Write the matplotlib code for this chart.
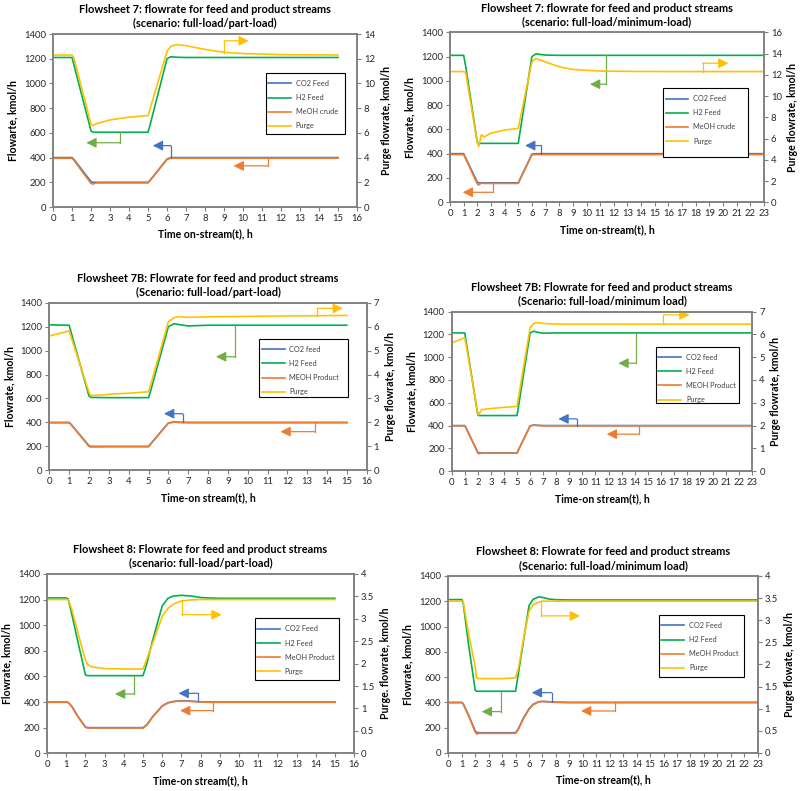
import matplotlib.pyplot as plt
from matplotlib.ticker import MultipleLocator, FuncFormatter
from matplotlib.patches import Rectangle

plt.rcParams['font.family'] = ['Lato', 'DejaVu Sans']

# --- Flowsheet 7, full-load/part-load ---
fs7_pl_t = [0, 1.0, 1.1, 2.0, 2.1, 2.3, 3, 4, 5, 5.1, 6.0, 6.2, 6.5, 7, 7.5, 8, 9, 10, 12, 15]
fs7_pl_co2 = [400, 400, 385, 205, 200, 200, 200, 200, 200, 215, 388, 400, 400, 400, 400, 400, 400, 400, 400, 400]
fs7_pl_h2 = [1210, 1210, 1150, 615, 605, 605, 605, 605, 605, 660, 1200, 1216, 1212, 1210, 1210, 1210, 1210, 1210, 1210, 1210]
fs7_pl_meoh = [394, 394, 378, 190, 186, 195, 195, 195, 195, 212, 385, 395, 395, 395, 395, 395, 395, 395, 395, 395]
fs7_pl_purge = [12.3, 12.3, 12.05, 6.7, 6.6, 6.75, 7.05, 7.27, 7.4, 7.9, 12.6, 13.0, 13.15, 13.05, 12.9, 12.75, 12.52, 12.42, 12.33, 12.3]

# --- Flowsheet 7, full-load/minimum-load ---
fs7_ml_t = [0, 1.0, 1.15, 2.0, 2.1, 2.3, 2.5, 3, 4, 5, 5.1, 6.0, 6.3, 7, 8, 9, 10, 11, 13, 16, 23]
fs7_ml_co2 = [400, 400, 365, 165, 160, 160, 160, 160, 160, 160, 184, 396, 400, 400, 400, 400, 400, 400, 400, 400, 400]
fs7_ml_h2 = [1210, 1210, 1120, 492, 485, 485, 485, 485, 485, 485, 557, 1200, 1222, 1212, 1210, 1210, 1210, 1210, 1210, 1210, 1210]
fs7_ml_meoh = [393, 393, 358, 150, 142, 158, 155, 155, 155, 155, 179, 390, 393, 393, 393, 393, 393, 393, 393, 393, 393]
fs7_ml_purge = [12.3, 12.3, 12.2, 5.6, 5.25, 6.35, 6.15, 6.5, 6.8, 6.95, 7.6, 13.2, 13.55, 13.2, 12.75, 12.5, 12.42, 12.35, 12.32, 12.3, 12.3]

# --- Flowsheet 7B, full-load/part-load ---
fs7b_pl_t = [0, 1.0, 1.1, 2.0, 2.1, 3, 3.25, 4, 5, 5.1, 6.0, 6.3, 6.5, 7, 8, 10, 15]
fs7b_pl_co2 = [400, 400, 383, 205, 200, 200, 200, 200, 200, 220, 395, 405, 402, 400, 400, 400, 400]
fs7b_pl_h2 = [1215, 1212, 1150, 620, 609, 607, 607, 607, 607, 660, 1200, 1225, 1218, 1206, 1212, 1212, 1212]
fs7b_pl_meoh = [397, 397, 380, 200, 195, 197, 197, 197, 197, 217, 395, 402, 400, 398, 398, 398, 398]
fs7b_pl_purge = [5.61, 5.82, 5.56, 3.25, 3.12, 3.17, 3.19, 3.22, 3.28, 3.55, 6.2, 6.38, 6.42, 6.39, 6.41, 6.43, 6.47]

# --- Flowsheet 7B, full-load/minimum load ---
fs7b_ml_t = [0, 1.0, 1.1, 2.0, 2.05, 2.3, 3, 4, 5, 5.1, 6.0, 6.3, 6.5, 7, 8, 10, 23]
fs7b_ml_co2 = [400, 400, 380, 165, 160, 160, 160, 160, 160, 185, 398, 405, 403, 400, 400, 400, 400]
fs7b_ml_h2 = [1213, 1212, 1140, 495, 488, 488, 488, 488, 488, 560, 1213, 1228, 1220, 1210, 1213, 1213, 1213]
fs7b_ml_meoh = [397, 397, 378, 160, 153, 158, 158, 158, 158, 183, 396, 403, 401, 398, 398, 398, 398]
fs7b_ml_purge = [5.63, 5.85, 5.55, 2.55, 2.47, 2.7, 2.75, 2.8, 2.84, 3.2, 6.29, 6.48, 6.52, 6.48, 6.45, 6.45, 6.45]

# --- Flowsheet 8, full-load/part-load ---
fs8_pl_t = [0, 1.0, 1.1, 1.3, 1.6, 2.0, 2.1, 2.3, 3, 4, 5, 5.2, 5.5, 6.0, 6.3, 6.6, 7, 7.5, 8, 8.5, 9, 10, 12, 15]
fs8_pl_co2 = [400, 400, 398, 365, 290, 205, 201, 200, 200, 200, 200, 222, 285, 370, 395, 405, 410, 407, 402, 400, 400, 400, 400, 400]
fs8_pl_h2 = [1213, 1213, 1205, 1080, 876, 612, 606, 606, 606, 606, 606, 700, 880, 1150, 1210, 1228, 1233, 1228, 1216, 1212, 1210, 1210, 1210, 1210]
fs8_pl_meoh = [398, 398, 396, 362, 287, 202, 198, 197, 197, 197, 197, 219, 282, 367, 393, 403, 408, 405, 400, 398, 398, 398, 398, 398]
fs8_pl_purge = [3.43, 3.43, 3.43, 3.2, 2.7, 2.08, 1.99, 1.93, 1.89, 1.88, 1.88, 2.1, 2.45, 3.05, 3.23, 3.33, 3.4, 3.42, 3.43, 3.43, 3.43, 3.43, 3.43, 3.43]

# --- Flowsheet 8, full-load/minimum load ---
fs8_ml_t = [0, 1.0, 1.1, 1.5, 2.0, 2.1, 2.3, 3, 4, 5, 5.2, 5.6, 6.0, 6.3, 6.7, 7, 7.5, 8, 9, 12, 23]
fs8_ml_co2 = [400, 400, 390, 300, 175, 162, 160, 160, 160, 160, 190, 280, 350, 385, 405, 408, 405, 402, 400, 400, 400]
fs8_ml_h2 = [1213, 1213, 1190, 860, 495, 488, 488, 488, 488, 488, 624, 896, 1165, 1215, 1234, 1230, 1217, 1212, 1210, 1210, 1210]
fs8_ml_meoh = [397, 397, 388, 295, 165, 150, 155, 155, 155, 155, 185, 275, 345, 380, 403, 407, 403, 400, 398, 398, 398]
fs8_ml_purge = [3.43, 3.43, 3.43, 2.7, 1.95, 1.69, 1.68, 1.68, 1.68, 1.7, 1.9, 2.6, 3.2, 3.35, 3.41, 3.43, 3.43, 3.43, 3.43, 3.43, 3.43]

C_CO2 = '#4472C4'
C_H2 = '#00B050'
C_MEOH = '#ED7D31'
C_PURGE = '#FFC000'
C_ARR_GREEN = '#70AD47'
GREY = '#7F7F7F'

# axis-pointer arrows: (x of vertical leg, y start, y corner, x of tip, colour) in left-axis units
fs7_pl_arrows = [(9.0, 1245, 1345, 10.3, C_PURGE), (3.55, 605, 520, 1.75, C_ARR_GREEN),
                 (6.2, 400, 497, 5.25, C_CO2), (11.3, 395, 333, 9.5, C_MEOH)]
fs7_ml_arrows = [(18.5, 1075, 1145, 20.4, C_PURGE), (11.46, 1210, 972, 10.25, C_ARR_GREEN),
                 (6.7, 400, 467, 5.5, C_CO2), (3.12, 155, 82, 0.93, C_MEOH)]
fs7b_pl_arrows = [(13.5, 1290, 1353, 14.8, C_PURGE), (9.36, 1212, 949, 8.4, C_ARR_GREEN),
                  (6.72, 400, 473, 5.78, C_CO2), (13.4, 400, 323, 11.65, C_MEOH)]
fs7b_ml_arrows = [(16.2, 1292, 1371, 18.2, C_PURGE), (14.1, 1213, 947, 12.75, C_ARR_GREEN),
                  (9.57, 400, 459, 8.16, C_CO2), (14.3, 400, 325, 11.86, C_MEOH)]
fs8_pl_arrows = [(7.02, 1200, 1082, 9.1, C_PURGE), (4.53, 606, 463, 3.54, C_ARR_GREEN),
                 (7.85, 405, 468, 6.85, C_CO2), (8.67, 400, 333, 6.93, C_MEOH)]
fs8_ml_arrows = [(6.91, 1200, 1084, 9.79, C_PURGE), (3.89, 488, 327, 2.48, C_ARR_GREEN),
                 (7.68, 402, 477, 6.2, C_CO2), (12.39, 400, 332, 9.86, C_MEOH)]


def style_axis(ax):
    for sp in ax.spines.values():
        sp.set_color(GREY)
        sp.set_linewidth(1.1)
    ax.tick_params(which='both', direction='out', length=3, width=0.8, color=GREY,
                   labelsize=6.8, labelcolor='#262626', pad=2)


def draw_panel(rect, title, t, co2, h2, meoh, purge, xmax, rmax, rstep,
               labels, ylabel_l, ylabel_r, xlabel, arrows, leg_box):
    ax = fig.add_axes(rect)
    ax2 = ax.twinx()
    l1, = ax.plot(t, co2, color=C_CO2, lw=1.2)
    l2, = ax.plot(t, h2, color=C_H2, lw=1.2)
    l3, = ax.plot(t, meoh, color=C_MEOH, lw=1.2)
    l4, = ax2.plot(t, purge, color=C_PURGE, lw=1.2)

    ax.set_xlim(0, xmax)
    ax.set_ylim(0, 1400)
    ax2.set_ylim(0, rmax)
    ax.xaxis.set_major_locator(MultipleLocator(1))
    ax.yaxis.set_major_locator(MultipleLocator(200))
    ax2.yaxis.set_major_locator(MultipleLocator(rstep))
    ax2.yaxis.set_major_formatter(FuncFormatter(lambda v, p: '%g' % v))
    style_axis(ax)
    style_axis(ax2)

    for xv, y0, y1, xt, c in arrows:
        ax.plot([xv, xv], [y0, y1], color=c, lw=0.9)
        ax.annotate('', xy=(xt, y1), xytext=(xv, y1),
                    arrowprops=dict(arrowstyle='-|>,head_length=0.6,head_width=0.3',
                                    color=c, lw=0.9, shrinkA=0, shrinkB=0))

    ax.set_title(title, fontsize=7.9, fontweight='bold', pad=5, linespacing=1.3)
    ax.set_xlabel(xlabel, fontsize=7.6, fontweight='bold', labelpad=4)
    ax.set_ylabel(ylabel_l, fontsize=7.6, fontweight='bold', labelpad=4)
    ax2.set_ylabel(ylabel_r, fontsize=7.6, fontweight='bold', labelpad=4)

    # legend box drawn as a plain rectangle, entries placed inside it
    x0, y0, x1, y1 = leg_box
    ax2.add_patch(Rectangle((x0, y0), x1 - x0, y1 - y0, transform=ax2.transAxes,
                            facecolor='white', edgecolor='black', lw=0.8, zorder=5))
    leg = ax2.legend([l1, l2, l3, l4], labels, loc='upper left',
                     bbox_to_anchor=(x0 + 0.003, y1 - 0.032), frameon=False,
                     fontsize=5.3, handlelength=3.1, handletextpad=0.65,
                     labelspacing=0.97, borderpad=0.2, borderaxespad=0)
    leg.set_zorder(6)
    for txt in leg.get_texts():
        txt.set_color('#404040')


fig = plt.figure(figsize=(8, 7.91), dpi=100)

labels_7 = ['CO2 Feed', 'H2 Feed', 'MeOH crude', 'Purge']
labels_7b = ['CO2 feed', 'H2 Feed', 'MEOH Product', 'Purge']
labels_8 = ['CO2 Feed', 'H2 Feed', 'MeOH Product', 'Purge']

draw_panel([0.0663, 0.7383, 0.38, 0.2187],
           'Flowsheet 7: flowrate for feed and product streams\n(scenario: full-load/part-load)',
           fs7_pl_t, fs7_pl_co2, fs7_pl_h2, fs7_pl_meoh, fs7_pl_purge, 16, 14, 2,
           labels_7, 'Flowarte, kmol/h', 'Purge flowrate, kmol/h', 'Time on-stream(t), h',
           fs7_pl_arrows, (0.70, 0.42, 0.96, 0.775))

draw_panel([0.5625, 0.7443, 0.3925, 0.2149],
           'Flowsheet 7: flowrate for feed and product streams\n(scenario: full-load/minimum-load)',
           fs7_ml_t, fs7_ml_co2, fs7_ml_h2, fs7_ml_meoh, fs7_ml_purge, 23, 16, 2,
           labels_7, 'Flowrate, kmol/h', 'Purge flowrate, kmol/h', 'Time on-stream(t), h',
           fs7_ml_arrows, (0.679, 0.265, 0.949, 0.671))

draw_panel([0.0617, 0.4054, 0.3967, 0.2119],
           'Flowsheet 7B: Flowrate for feed and product streams\n(Scenario: full-load/part-load)',
           fs7b_pl_t, fs7b_pl_co2, fs7b_pl_h2, fs7b_pl_meoh, fs7b_pl_purge, 16, 7, 1,
           labels_7b, 'Flowrate, kmol/h', 'Purge flowrate, kmol/h', 'Time-on stream(t), h',
           fs7b_pl_arrows, (0.662, 0.435, 0.942, 0.783))

draw_panel([0.5646, 0.4043, 0.3758, 0.2018],
           'Flowsheet 7B: Flowrate for feed and product streams\n(Scenario: full-load/minimum load)',
           fs7b_ml_t, fs7b_ml_co2, fs7b_ml_h2, fs7b_ml_meoh, fs7b_ml_purge, 23, 7, 1,
           labels_7b, 'Flowrate, kmol/h', 'Purge flowrate, kmol/h', 'Time-on stream(t), h',
           fs7b_ml_arrows, (0.680, 0.430, 0.956, 0.777))

draw_panel([0.0588, 0.0477, 0.3838, 0.2267],
           'Flowsheet 8: Flowrate for feed and product streams\n(scenario: full-load/part-load)',
           fs8_pl_t, fs8_pl_co2, fs8_pl_h2, fs8_pl_meoh, fs8_pl_purge, 16, 4, 0.5,
           labels_8, 'Flowrate, kmol/h', 'Purge. flowrate, kmol/h', 'Time-on stream(t), h',
           fs8_pl_arrows, (0.676, 0.409, 0.952, 0.753))

draw_panel([0.5604, 0.0481, 0.3868, 0.2238],
           'Flowsheet 8: Flowrate for feed and product streams\n(Scenario: full-load/minimum load)',
           fs8_ml_t, fs8_ml_co2, fs8_ml_h2, fs8_ml_meoh, fs8_ml_purge, 23, 4, 0.5,
           labels_8, 'Flowrate, kmol/h', 'Purge flowate, kmol/h', 'Time-on stream(t), h',
           fs8_ml_arrows, (0.681, 0.431, 0.957, 0.780))

fig.savefig('out.png', dpi=100)
